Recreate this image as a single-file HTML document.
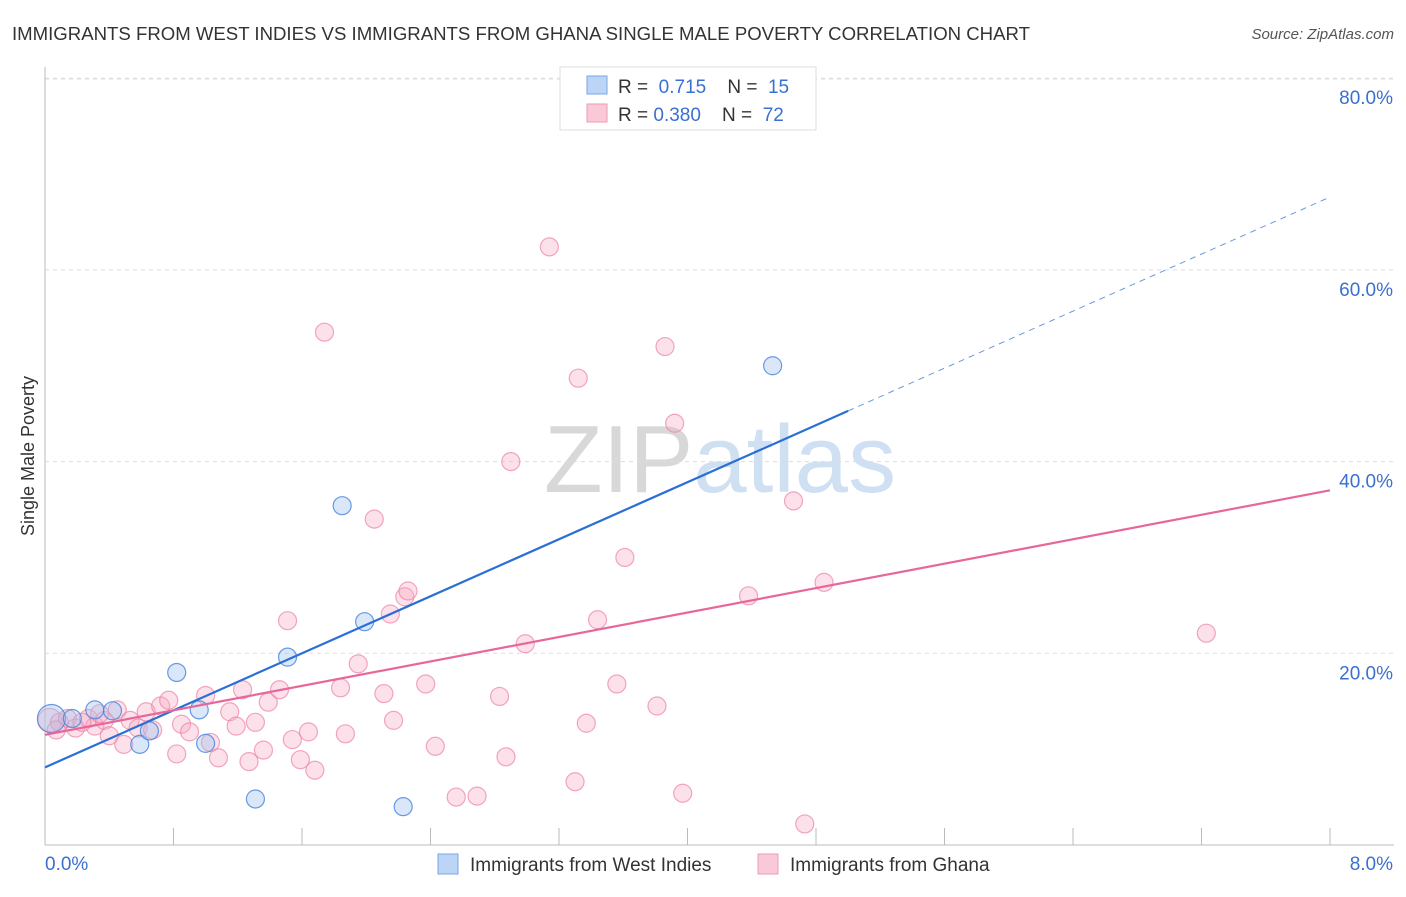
<!DOCTYPE html>
<html><head><meta charset="utf-8"><style>
body{margin:0;background:#fff;font-family:"Liberation Sans",sans-serif;}
svg text{font-family:"Liberation Sans",sans-serif;}
</style></head><body>
<svg width="1406" height="892" viewBox="0 0 1406 892" xmlns="http://www.w3.org/2000/svg">
<text x="12" y="40" font-size="18.6" fill="#333">IMMIGRANTS FROM WEST INDIES VS IMMIGRANTS FROM GHANA SINGLE MALE POVERTY CORRELATION CHART</text>
<text x="1394" y="39" font-size="15" fill="#555" text-anchor="end" font-style="italic">Source: ZipAtlas.com</text>
<text x="720" y="492" font-size="96" fill="#ddd" text-anchor="middle" font-family="Liberation Serif"><tspan fill="#d8d8d8">ZIP</tspan><tspan fill="#cfe0f3" font-family="Liberation Sans">atlas</tspan></text>
<g id="grid"></g>
<g id="axes"></g>
<g id="marks"></g>
<text transform="translate(34,456) rotate(-90)" font-size="18" fill="#333" text-anchor="middle">Single Male Poverty</text>
<g>
<rect x="560" y="67" width="256" height="63" fill="#fff" stroke="#ddd"/>
<rect x="587" y="76" width="20" height="18" fill="#bcd4f5" stroke="#7aa6e6"/>
<rect x="587" y="104" width="20" height="18" fill="#f9c9d7" stroke="#ee9ab5"/>
<text x="618" y="93" font-size="19" fill="#333">R = <tspan fill="#3a70d0">&#160;0.715</tspan>&#160;&#160;&#160; N = <tspan fill="#3a70d0">&#160;15</tspan></text>
<text x="618" y="121" font-size="19" fill="#333">R = <tspan fill="#3a70d0">0.380</tspan>&#160;&#160;&#160; N = <tspan fill="#3a70d0">&#160;72</tspan></text>
</g>
<g>
<rect x="438" y="854" width="20" height="20" fill="#bcd4f5" stroke="#7aa6e6"/>
<text x="470" y="871" font-size="19" fill="#333">Immigrants from West Indies</text>
<rect x="758" y="854" width="20" height="20" fill="#f9c9d7" stroke="#ee9ab5"/>
<text x="790" y="871" font-size="19" fill="#333">Immigrants from Ghana</text>
</g>
</svg>
<script>
const yTicks=[20,40,60,80];
const yTickLabels=["20.0%","40.0%","60.0%","80.0%"];
const xTicks=[0,0.8,1.6,2.4,3.2,4.0,4.8,5.6,6.4,7.2,8.0];
const xEndLabels=["0.0%","8.0%"];
const westX=[.04,.17,.31,.42,.59,.65,.82,.96,1.00,1.31,1.51,1.85,1.99,2.23,4.53];
const westY=[13.2,13.2,14.1,14.0,10.5,11.9,18.0,14.1,10.6,4.8,19.6,35.4,23.3,4.0,50.0];
const ghanaX=[.03,.09,.14,.19,.27,.31,.37,.40,.45,.49,.53,.58,.63,.67,.72,.77,.82,.85,.90,1.00,1.03,1.08,1.15,1.19,1.23,1.27,1.31,1.36,1.39,1.46,1.51,1.54,1.59,1.64,1.68,1.74,1.84,1.87,1.95,2.05,2.11,2.15,2.17,2.24,2.26,2.37,2.43,2.56,2.69,2.83,2.87,2.90,2.99,3.14,3.30,3.32,3.37,3.44,3.56,3.61,3.81,3.86,3.92,3.97,4.38,4.66,4.73,4.85,7.23,.07,.23,.34];
const ghanaY=[13.0,12.8,13.2,12.2,13.2,12.4,13.0,11.4,14.1,10.5,13.0,12.2,13.9,12.0,14.5,15.1,9.5,12.6,11.8,15.6,10.7,9.1,13.9,12.4,16.2,8.7,12.8,9.9,14.9,16.2,23.4,11.0,8.9,11.8,7.8,53.5,16.4,11.6,18.9,34.0,15.8,24.1,13.0,25.9,26.5,16.8,10.3,5.0,5.1,15.5,9.2,40.0,21.0,62.4,6.6,48.7,12.7,23.5,16.8,30.0,14.5,52.0,44.0,5.4,26.0,35.9,2.2,27.4,22.1,12.0,12.8,13.7];
const westTrend=[8.1,67.6];
const westSolidEnd=5.0;
const ghanaTrend=[11.5,37.0];

const NS="http://www.w3.org/2000/svg";
const X=v=>45+v/8*1285;
const Y=v=>845-v*9.585;
function mk(tag,attrs,parent){const e=document.createElementNS(NS,tag);for(const k in attrs)e.setAttribute(k,attrs[k]);document.getElementById(parent).appendChild(e);return e;}
yTicks.forEach((t,i)=>{
 const l=mk('line',{x1:45,x2:1394,y1:Y(t),y2:Y(t),stroke:'#ddd','stroke-dasharray':'4,4'},'grid');
 
 
 const tx=mk('text',{x:1393,y:Y(t)+26,'font-size':19,fill:'#3a70d0','text-anchor':'end'},'grid');
 tx.textContent=yTickLabels[i];
 
 
});
const topLine=mk('line',{x1:45,x2:1394,y1:79,y2:79,stroke:'#ddd','stroke-dasharray':'4,4'},'grid');


const ya=mk('line',{x1:45,x2:45,y1:67,y2:845,stroke:'#bbb'},'axes');


const xa=mk('line',{x1:45,x2:1394,y1:845,y2:845,stroke:'#bbb'},'axes');


xTicks.forEach(t=>{
 const l=mk('line',{x1:X(t),x2:X(t),y1:828,y2:845,stroke:'#bbb'},'axes');
 
 
});
[[0,'start',45],[8,'end',1393]].forEach((d,i)=>{
 const tx=mk('text',{x:d[2],y:870,'font-size':19,fill:'#3a70d0','text-anchor':d[1]},'axes');
 tx.textContent=xEndLabels[i];
 
 
});
ghanaX.forEach((x,i)=>{
 const c=mk('circle',{cx:X(x),cy:Y(ghanaY[i]),r:i==0?12:9,fill:'rgba(246,170,195,0.35)',stroke:'rgba(236,130,165,0.7)','stroke-width':1.2},'marks');
 
 
});
westX.forEach((x,i)=>{
 const c=mk('circle',{cx:X(x),cy:Y(westY[i]),r:i==0?14:9,fill:'rgba(160,195,240,0.4)',stroke:'rgba(70,130,220,0.8)','stroke-width':1.2},'marks');
 
 
});
const wy=x=>westTrend[0]+(westTrend[1]-westTrend[0])*x/8;
let ln=mk('line',{x1:X(0),y1:Y(wy(0)),x2:X(westSolidEnd),y2:Y(wy(westSolidEnd)),stroke:'#2a6fd6','stroke-width':2.2},'marks');


ln=mk('line',{x1:X(westSolidEnd),y1:Y(wy(westSolidEnd)),x2:X(8),y2:Y(wy(8)),stroke:'#6a98dd','stroke-width':1,'stroke-dasharray':'6,5'},'marks');


ln=mk('line',{x1:X(0),y1:Y(ghanaTrend[0]),x2:X(8),y2:Y(ghanaTrend[1]),stroke:'#e8679a','stroke-width':2.2},'marks');


</script>
</body></html>
